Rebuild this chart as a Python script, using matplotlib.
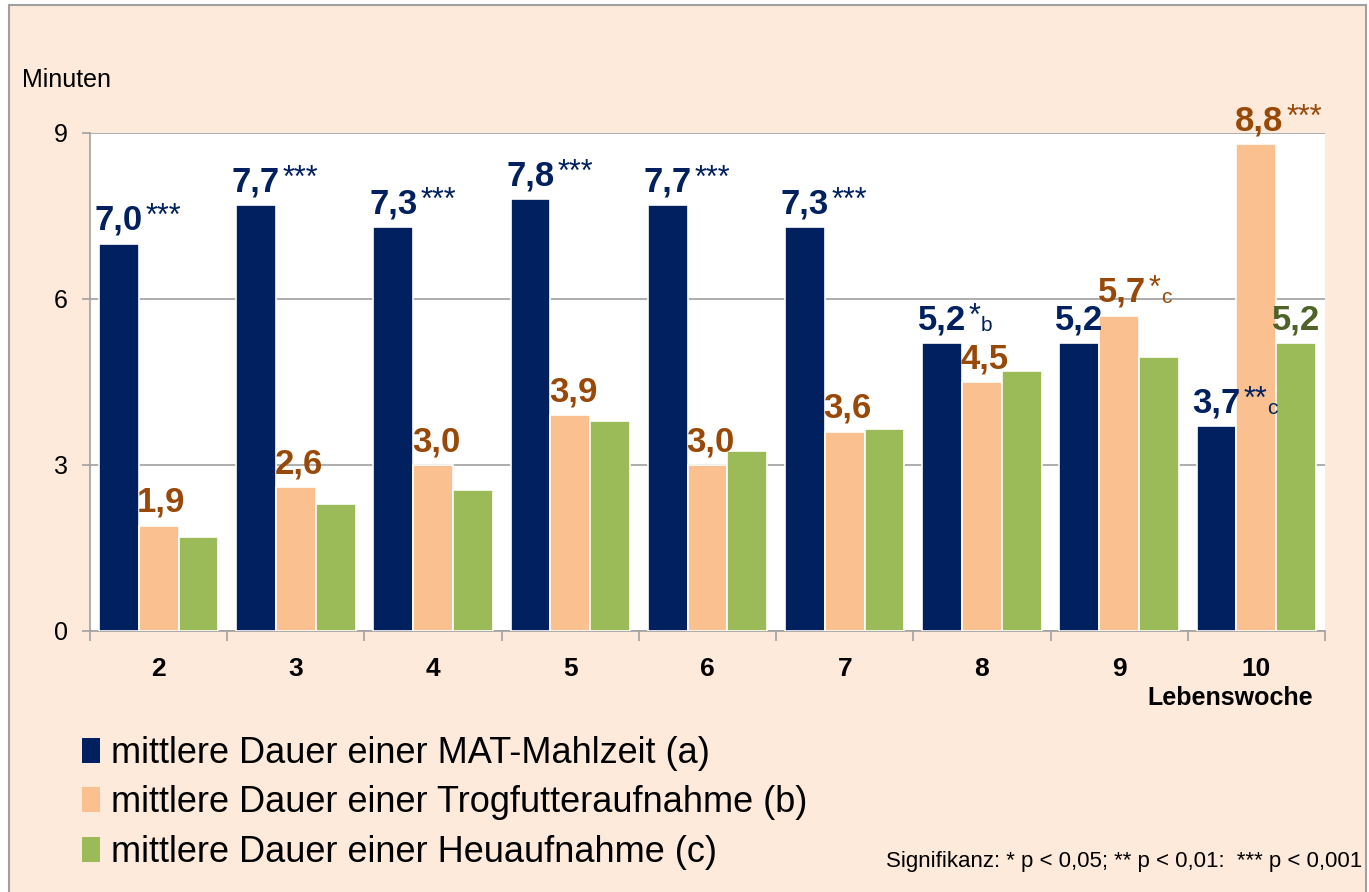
import numpy as np
import matplotlib.pyplot as plt
from matplotlib.patches import Rectangle, Patch

plt.rcParams['font.family'] = ['Liberation Sans', 'DejaVu Sans']

# ---- data ----
weeks = ['2', '3', '4', '5', '6', '7', '8', '9', '10']
mat  = [7.0, 7.7, 7.3, 7.8, 7.7, 7.3, 5.2, 5.2, 3.7]     # (a)
trog = [1.9, 2.6, 3.0, 3.9, 3.0, 3.6, 4.5, 5.7, 8.8]     # (b)
heu  = [1.7, 2.3, 2.55, 3.8, 3.25, 3.65, 4.7, 4.95, 5.2] # (c)

mat_stars  = ['***', '***', '***', '***', '***', '***', '*', '', '**']
mat_sub    = ['', '', '', '', '', '', 'b', '', 'c']
trog_stars = ['', '', '', '', '', '', '', '*', '***']
trog_sub   = ['', '', '', '', '', '', '', 'c', '']
heu_show   = [False] * 8 + [True]

labels = ['mittlere Dauer einer MAT-Mahlzeit (a)',
          'mittlere Dauer einer Trogfutteraufnahme (b)',
          'mittlere Dauer einer Heuaufnahme (c)']

# ---- style ----
C_BLUE, C_ORANGE, C_GREEN = '#002060', '#FAC090', '#9BBB59'
T_BLUE, T_ORANGE, T_GREEN = '#002060', '#984807', '#4F6228'
BG = '#FDEADA'
GRID = '#A0A0A0'

W, H = 1369, 892
fig = plt.figure(figsize=(W / 100, H / 100), dpi=100)
fig.patch.set_facecolor('white')
fig.patches.append(Rectangle((9 / W, -0.02), (1366 - 9) / W, 1 - 5 / H + 0.02,
                             transform=fig.transFigure, facecolor=BG,
                             edgecolor=GRID, lw=1.5, zorder=-10))

ax = fig.add_axes([90 / W, 1 - 631 / H, 1235 / W, 498 / H])
ax.set_facecolor('white')

x = np.arange(len(weeks))
w = 0.29
ax.bar(x - w, mat, w, color=C_BLUE, edgecolor='white', lw=1.2, zorder=3)
ax.bar(x, trog, w, color=C_ORANGE, edgecolor='white', lw=1.2, zorder=3)
ax.bar(x + w, heu, w, color=C_GREEN, edgecolor='white', lw=1.2, zorder=3)

ax.set_xlim(-0.5, len(weeks) - 0.5)
ax.set_ylim(0, 9)
ax.set_yticks([0, 3, 6, 9])
ax.yaxis.grid(True, color=GRID, lw=1.2, zorder=0)
ax.set_axisbelow(True)
for s in ['top', 'right']:
    ax.spines[s].set_visible(False)
for s in ['left', 'bottom']:
    ax.spines[s].set_color(GRID)
    ax.spines[s].set_linewidth(1.2)

ax.set_xticks(x)
ax.set_xticklabels(weeks, fontsize=19, fontweight='bold')
ax.set_xticks(np.arange(-0.5, len(weeks)), minor=True)
ax.tick_params(axis='x', which='major', length=0, pad=19)
ax.tick_params(axis='x', which='minor', length=7, color=GRID, width=1.2)
ax.tick_params(axis='y', length=6, color=GRID, width=1.2, labelsize=18, pad=10)


def fmt(v):
    return f'{v:.1f}'.replace('.', ',')


def label(xp, v, color, stars='', sub='', dx=0):
    t = ax.annotate(fmt(v), xy=(xp, v), xytext=(dx, 10), textcoords='offset points',
                    ha='center', va='baseline', fontsize=25, fontweight='bold',
                    color=color, annotation_clip=False, zorder=5)
    if stars:
        s = ax.annotate(stars, xy=(1, 1), xycoords=t, xytext=(2, 1),
                        textcoords='offset points', ha='left', va='top',
                        fontsize=22, color=color, zorder=5)
        if sub:
            ax.annotate(sub, xy=(1, 0), xycoords=(s, t), xytext=(0, 1),
                        textcoords='offset points', ha='left', va='bottom',
                        fontsize=15, color=color, zorder=5)


for i in range(len(weeks)):
    label(x[i] - w, mat[i], T_BLUE, mat_stars[i], mat_sub[i])
    label(x[i], trog[i], T_ORANGE, trog_stars[i], trog_sub[i], dx=2)
    if heu_show[i]:
        label(x[i] + w, heu[i], T_GREEN)

fig.text(22 / W, 1 - 80 / H, 'Minuten', fontsize=18, va='center', ha='left')
fig.text(1230 / W, 1 - 698 / H, 'Lebenswoche', fontsize=18, fontweight='bold',
         va='center', ha='center')
fig.text(1362 / W, 1 - 862 / H, 'Signifikanz: * p < 0,05; ** p < 0,01:  *** p < 0,001',
         fontsize=16, va='center', ha='right')

handles = [Patch(facecolor=c) for c in (C_BLUE, C_ORANGE, C_GREEN)]
fig.legend(handles, labels, loc='upper left', bbox_to_anchor=(82 / W, 1 - 736 / H),
           frameon=False, fontsize=26, handlelength=0.5, handleheight=0.7,
           handletextpad=0.3, labelspacing=0.4, borderpad=0, borderaxespad=0)

fig.savefig('out.png', dpi=100, facecolor=fig.get_facecolor())
